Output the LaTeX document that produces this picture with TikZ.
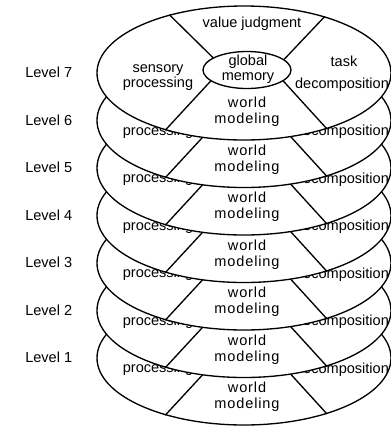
\documentclass[tikz,border=0pt]{standalone}
\usepackage{fontspec}
\setmainfont{Liberation Sans}
\usetikzlibrary{shapes.geometric, positioning}

\begin{document}
\begin{tikzpicture}[
    x=0.75pt, y=-0.75pt,
    ring/.style={draw, ellipse, fill=white, line width=1pt, inner sep=0pt,
                 minimum width=220.5pt, minimum height=100.5pt},
    memory/.style={draw, ellipse, fill=white, line width=1pt, inner sep=0pt,
                   minimum width=66pt, minimum height=27.75pt},
    divider/.style={line width=1pt},
    part/.style={inner sep=0pt, font=\fontsize{10.9}{11.6}\selectfont},
    word/.style={part, anchor=base},
    spaced/.style={part, align=center,
                   font=\fontsize{10.9}{12.2}\selectfont\addfontfeature{LetterSpace=6}},
  ]
  \useasboundingbox (0,0) rectangle (391,426);
  \clip (0,0) rectangle (391,426);

  % levels from the bottom up, each ring covering the one below
  \foreach \lv in {1,...,7} {
    \pgfmathsetmacro{\cy}{73+(7-\lv)*47.5}
    % ring of the level, global memory in its middle
    \node[ring] (lv\lv) at (244,\cy) {};
    \node[memory] (gm\lv) at (247,\cy-3) {};
    \draw[divider] (gm\lv.160) -- (lv\lv.142);
    \draw[divider] (gm\lv.16) -- (lv\lv.35);
    \draw[divider] (gm\lv.197) -- (lv\lv.216);
    \draw[divider] (gm\lv.-17) -- (lv\lv.-34);
    % what still shows below the ring above
    \node[word] (pr\lv) at (158,\cy+14.5) {processing};
    \node[word] (dc\lv) at (342,\cy+15) {decomposition};
    \node[spaced] (wm\lv) at (247,\cy+39) {world\\modeling};
    \node[word, anchor=base west] (name\lv) at (25,\cy+4.7) {Level \lv};
  }

  % top level only
  \node[word] (vj) at (252,27) {value judgment};
  \node[word] (se) at (158,72) {sensory};
  \node[word] (tk) at (344,66.3) {task};
  \node[part, align=center] (gt) at (248,69) {global\\memory};
\end{tikzpicture}
\end{document}
